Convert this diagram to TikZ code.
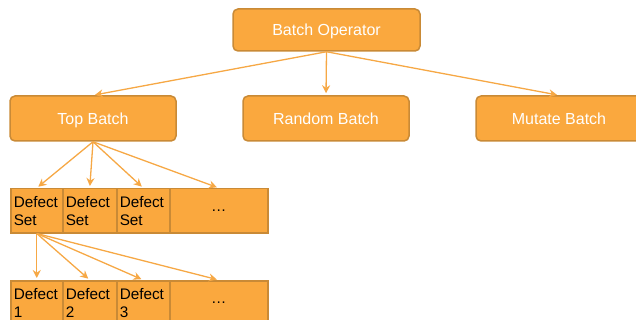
\documentclass[tikz,border=0pt]{standalone}
\usepackage{fontspec}
\setmainfont{Liberation Sans}
\usetikzlibrary{arrows.meta}
\definecolor{boxfill}{HTML}{FAA83E}
\definecolor{boxline}{HTML}{C98A36}
\definecolor{arrowcol}{HTML}{F6A845}
\tikzset{
  batchbox/.style={draw=boxline, fill=boxfill, line width=1.5pt, rounded corners=5pt,
    minimum width=166pt, minimum height=45pt, text=white, text height=11.5pt, text depth=0pt,
    font=\fontsize{16}{19}\selectfont},
  cellbox/.style={draw=boxline, fill=boxfill, line width=1.5pt, anchor=north west,
    minimum height=44pt, inner sep=3pt, align=left, font=\fontsize{15.3}{18}\selectfont},
  link/.style={draw=arrowcol, line width=1.3pt, -{Stealth[length=8pt,width=8pt]}, shorten >=2pt}
}
\begin{document}
\begin{tikzpicture}[x=1pt,y=-1pt]
\useasboundingbox (0,0) rectangle (636,320);
\clip (0,0) rectangle (636,320);
% batches
\node[batchbox, minimum width=187pt, minimum height=42pt] (op) at (326.5,30) {Batch Operator};
\node[batchbox] (top) at (93,118.5) {Top Batch};
\node[batchbox] (rand) at (326,118.5) {Random Batch};
\node[batchbox] (mut) at (559,118.5) {Mutate Batch};
\draw[link] (op.south) -- (top.north);
\draw[link] (op.south) -- (rand.north);
\draw[link] (op.south) -- (mut.north);
% defect sets
\node[cellbox, minimum width=52pt, text width=46pt] (set1) at (10,188) {Defect\\Set};
\node[cellbox, minimum width=54pt, text width=48pt] (set2) at (62,188) {Defect\\Set};
\node[cellbox, minimum width=53pt, text width=47pt] (set3) at (116,188) {Defect\\Set};
\node[cellbox, minimum width=98pt, text width=92pt, align=center] (set4) at (169,188) {…\\[4pt]};
\foreach \n in {set1,set2,set3,set4} \draw[link] (top.south) -- (\n.north);
% defects
\node[cellbox, minimum width=52pt, text width=46pt] (def1) at (10,280) {Defect\\1};
\node[cellbox, minimum width=54pt, text width=48pt] (def2) at (62,280) {Defect\\2};
\node[cellbox, minimum width=53pt, text width=47pt] (def3) at (116,280) {Defect\\3};
\node[cellbox, minimum width=98pt, text width=92pt, align=center] (def4) at (169,280) {…\\[4pt]};
\foreach \n in {def1,def2,def3,def4} \draw[link] (set1.south) -- (\n.north);
\end{tikzpicture}
\end{document}
